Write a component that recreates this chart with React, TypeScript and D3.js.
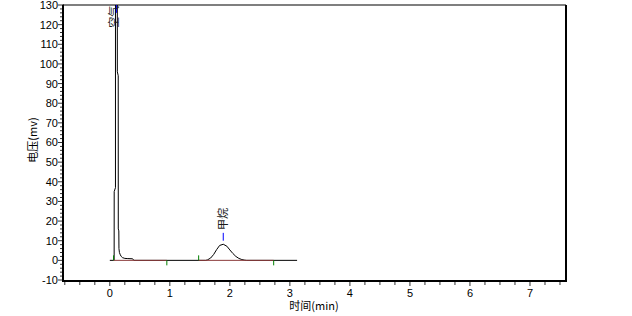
import React from "react";
import * as d3 from "d3";

const W = 632;
const H = 316;

// signal (time in min, voltage in mV)
const sigTime = [
  0, 0.062, 0.072, 0.073, 0.094, 0.095, 0.124, 0.125, 0.14, 0.141, 0.15, 0.152,
  0.16, 0.175, 0.19, 0.21, 0.25, 0.3, 0.38, 0.4, 1.6, 1.63, 1.68, 1.73, 1.78,
  1.83, 1.89, 1.95, 2.0, 2.05, 2.1, 2.15, 2.2, 2.25, 2.28, 3.12,
];
const sigValue = [
  0, 0, 0, 35, 37, 400, 400, 96, 94, 16, 15, 6,
  4, 2.8, 2, 1.4, 1, 0.9, 0.8, 0, 0, 0.3, 1.2, 3, 5.5,
  7.6, 8.2, 7.2, 5.3, 3.5, 2, 1, 0.4, 0.1, 0, 0,
];

// peak integration info
const peakNames = ["空气", "甲烷"];
const peakApex = [0.11, 1.89];
const peakStart = [0.062, 1.48];
const peakEnd = [0.95, 2.73];
const apexTickFrom = [126, 10];
const apexTickTo = [130, 14];
const labelMid = [124, 21];
const labelShift = [2, 4];

const xTicks = [0, 1, 2, 3, 4, 5, 6, 7];
const yTicks = [-10, 0, 10, 20, 30, 40, 50, 60, 70, 80, 90, 100, 110, 120, 130];

export default function App() {
  const left = 63, right = 566, top = 5, bottom = 280;
  const x = d3.scaleLinear().domain([-0.78, 7.6]).range([left, right]);
  const y = d3.scaleLinear().domain([-10, 130]).range([bottom, top]);

  const pts: [number, number][] = sigTime.map((t, i) => [t, sigValue[i]]);
  const line = d3
    .line<[number, number]>()
    .x((d) => x(d[0]))
    .y((d) => y(d[1]));

  const minorX = d3.range(-0.75, 7.51, 0.25);
  const minorY = d3.range(-10, 130.1, 2);
  const font = "'Liberation Sans', Arial, sans-serif";
  const cjk = "'Noto Sans CJK SC', sans-serif";

  return (
    <svg
      width={W}
      height={H}
      style={{ position: "absolute", left: 0, top: 0, background: "#fff" }}
    >
      <defs>
        <clipPath id="plotclip">
          <rect x={left} y={top} width={right - left} height={bottom - top + 1} />
        </clipPath>
      </defs>
      {/* frame */}
      <line x1={left} y1={top} x2={right} y2={top} stroke="#000" strokeWidth={1.2} />
      <line x1={right} y1={top} x2={right} y2={bottom + 1} stroke="#000" strokeWidth={2} />
      <line x1={left} y1={top - 0.5} x2={left} y2={bottom + 2} stroke="#000" strokeWidth={2} />
      <line x1={left - 1} y1={bottom + 1} x2={right + 1} y2={bottom + 1} stroke="#000" strokeWidth={2} />

      {/* x ticks */}
      {minorX.map((t, i) => (
        <line
          key={"mx" + i}
          x1={x(t)}
          x2={x(t)}
          y1={bottom + 2}
          y2={bottom + (Math.abs(t - Math.round(t)) < 1e-6 ? 6 : 5)}
          stroke="#333"
          strokeWidth={1}
        />
      ))}
      {xTicks.map((t) => (
        <text
          key={"xt" + t}
          x={x(t)}
          y={297}
          textAnchor="middle"
          fontFamily={font}
          fontSize={11}
          fill="#000"
        >
          {t}
        </text>
      ))}

      {/* y ticks */}
      {minorY.map((v, i) => (
        <line
          key={"my" + i}
          x1={left - 1}
          x2={left - (Math.abs(v % 10) < 1e-6 ? 5 : 3)}
          y1={y(v)}
          y2={y(v)}
          stroke="#333"
          strokeWidth={1}
        />
      ))}
      {yTicks.map((v) => (
        <text
          key={"yt" + v}
          x={left - 5}
          y={y(v)}
          dy="0.36em"
          textAnchor="end"
          fontFamily={font}
          fontSize={11}
          fill="#000"
        >
          {v}
        </text>
      ))}

      {/* axis titles */}
      <text
        transform={`translate(37,${140}) rotate(-90)`}
        textAnchor="middle"
        fontFamily={cjk}
        fontSize={11}
        fill="#000"
      >
        电压(mv)
      </text>
      <text
        x={314}
        y={310}
        textAnchor="middle"
        fontFamily={cjk}
        fontSize={11}
        fill="#000"
      >
        时间(min)
      </text>

      <g clipPath="url(#plotclip)">
        {/* signal */}
        <path d={line(pts) || ""} fill="none" stroke="#000" strokeWidth={1} />
        {/* baselines */}
        {peakStart.map((s, i) => (
          <line
            key={"bl" + i}
            x1={x(s)}
            x2={x(peakEnd[i])}
            y1={y(0)}
            y2={y(0)}
            stroke="#8b3a3a"
            strokeWidth={1}
          />
        ))}
        {/* start / end markers */}
        {peakStart.map((s, i) => (
          <line
            key={"ps" + i}
            x1={x(s)}
            x2={x(s)}
            y1={y(0)}
            y2={y(0) - 5}
            stroke="#008000"
            strokeWidth={1}
          />
        ))}
        {peakEnd.map((s, i) => (
          <line
            key={"pe" + i}
            x1={x(s)}
            x2={x(s)}
            y1={y(0)}
            y2={y(0) + 5}
            stroke="#008000"
            strokeWidth={1}
          />
        ))}
        {/* apex markers */}
        {peakApex.map((a, i) => (
          <line
            key={"pa" + i}
            x1={x(a)}
            x2={x(a)}
            y1={y(apexTickFrom[i])}
            y2={y(apexTickTo[i])}
            stroke="#0000ff"
            strokeWidth={1}
          />
        ))}
        {/* peak names */}
        {peakNames.map((n, i) => (
          <text
            key={"pn" + i}
            transform={`translate(${x(peakApex[i]) + labelShift[i]},${y(labelMid[i])}) rotate(-90)`}
            textAnchor="middle"
            fontFamily={cjk}
            fontSize={11}
            fill="#1a1a1a"
          >
            {n}
          </text>
        ))}
      </g>
    </svg>
  );
}
